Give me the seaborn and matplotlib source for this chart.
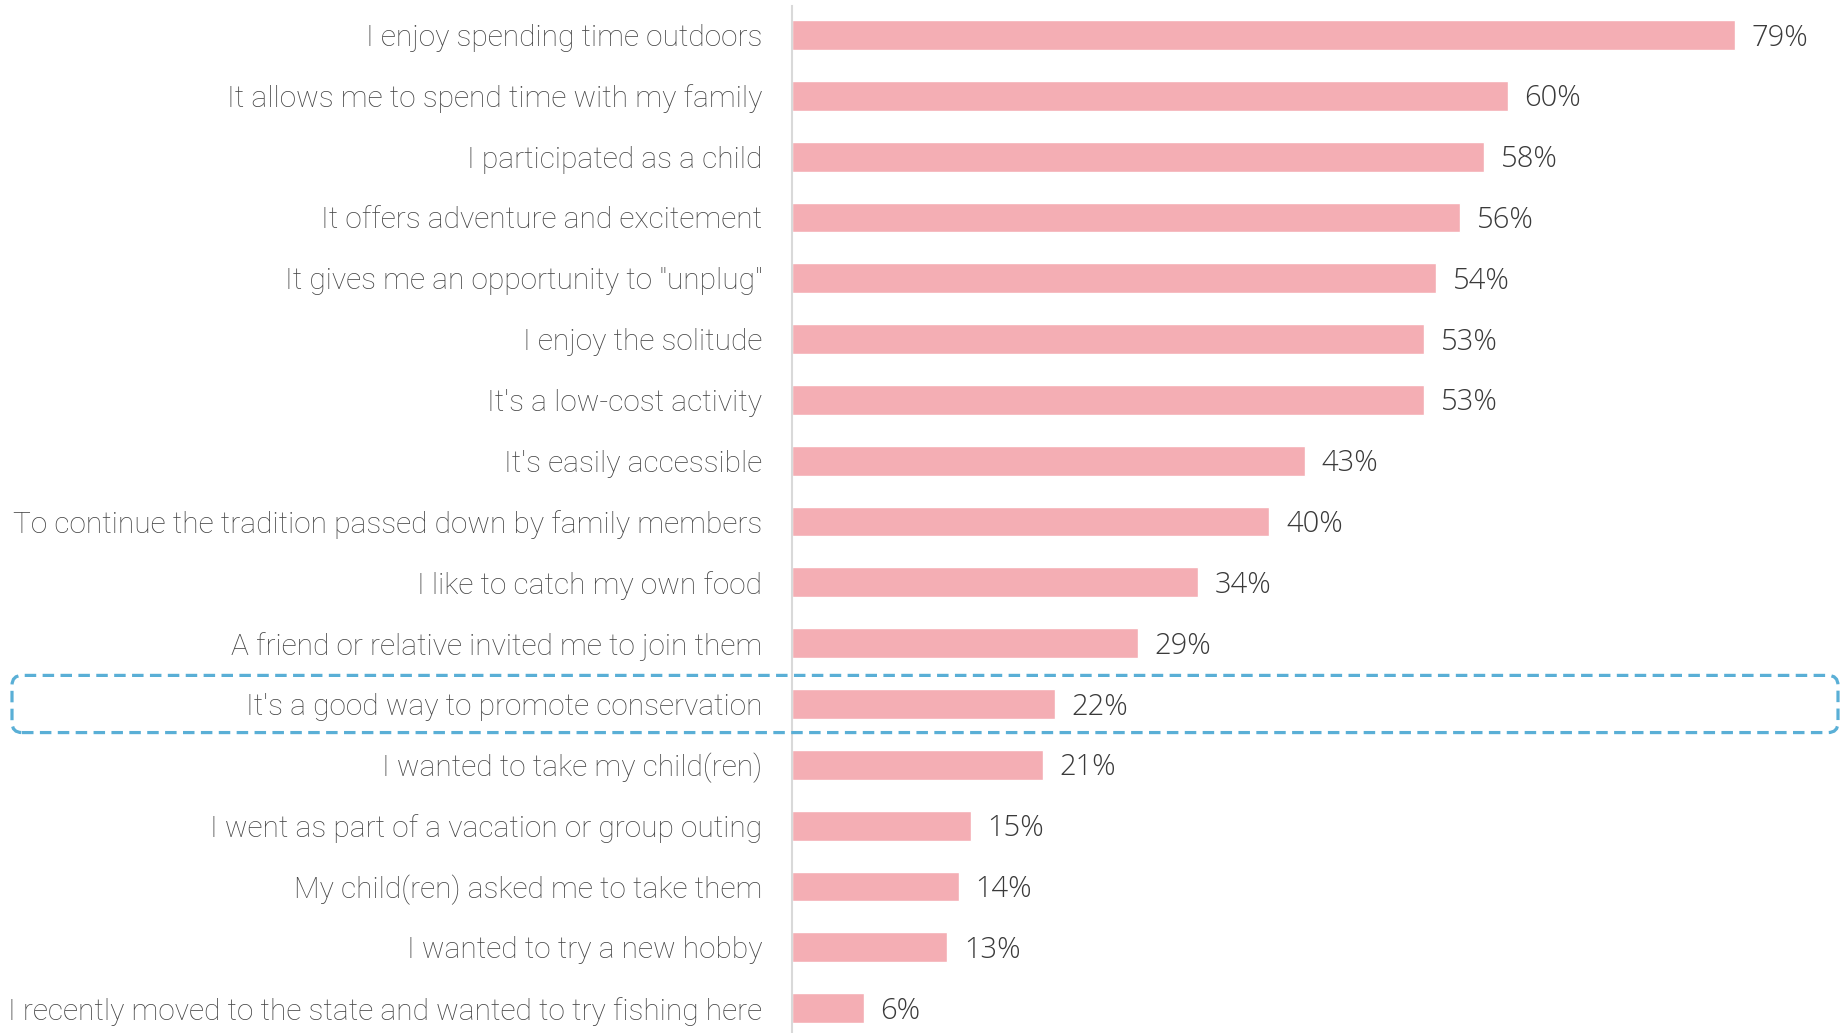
import numpy as np
import pandas as pd
import seaborn as sns
import matplotlib.pyplot as plt
import matplotlib.transforms as mtransforms
from matplotlib.patches import FancyBboxPatch

# reasons for fishing, share of respondents (%)
reasons = [
    "I enjoy spending time outdoors",
    "It allows me to spend time with my family",
    "I participated as a child",
    "It offers adventure and excitement",
    "It gives me an opportunity to \"unplug\"",
    "I enjoy the solitude",
    "It's a low-cost activity",
    "It's easily accessible",
    "To continue the tradition passed down by family members",
    "I like to catch my own food",
    "A friend or relative invited me to join them",
    "It's a good way to promote conservation",
    "I wanted to take my child(ren)",
    "I went as part of a vacation or group outing",
    "My child(ren) asked me to take them",
    "I wanted to try a new hobby",
    "I recently moved to the state and wanted to try fishing here",
]
shares = [79, 60, 58, 56, 54, 53, 53, 43, 40, 34, 29, 22, 21, 15, 14, 13, 6]
highlight = "It's a good way to promote conservation"

df = pd.DataFrame({"reason": reasons, "share": shares})

sns.set_theme(style="white")
plt.rcParams['font.family'] = ['Roboto', 'DejaVu Sans']

W, H, DPI = 1842, 1033, 100
fig = plt.figure(figsize=(W / DPI, H / DPI), dpi=DPI)
ax = fig.add_axes([792 / W, 0, 1 - 792 / W, 1 - 6 / H])

sns.barplot(data=df, y="reason", x="share", orient="h", color="#F4AEB4",
            saturation=1, width=0.49, ax=ax)

ax.set_xlim(0, 88)
ax.set_ylim(16.41, -0.477)
ax.set_xlabel("")
ax.set_ylabel("")
ax.set_xticks([])
for s in ["top", "right", "bottom"]:
    ax.spines[s].set_visible(False)
ax.spines["left"].set_color("#d9d9d9")
ax.spines["left"].set_linewidth(1.5)

ax.tick_params(axis="y", length=0, pad=21.5)
for lab in ax.get_yticklabels():
    lab.set_fontsize(21.5)
    lab.set_fontweight("light")
    lab.set_color("#444444")

for i, v in enumerate(shares):
    ax.annotate(f"{v}%", (v, i), xytext=(12, -2), textcoords="offset points",
                va="center", ha="left", fontsize=21, color="#3a3a3a",
                family=["Open Sans", "DejaVu Sans"], fontweight="light")

# dashed highlight box around the conservation row
fig.canvas.draw()
k = reasons.index(highlight)
_, y_top = ax.transData.transform((0, k - 0.47))
_, y_bot = ax.transData.transform((0, k + 0.47))
box = FancyBboxPatch((12, y_bot), 1838 - 12, y_top - y_bot,
                     boxstyle="round,pad=0,rounding_size=10",
                     transform=mtransforms.IdentityTransform(),
                     fill=False, edgecolor="#5AAFD6", linewidth=2.3,
                     linestyle=(0, (3.6, 2)), clip_on=False, zorder=5)
fig.patches.append(box)

fig.savefig("out.png", dpi=DPI)
